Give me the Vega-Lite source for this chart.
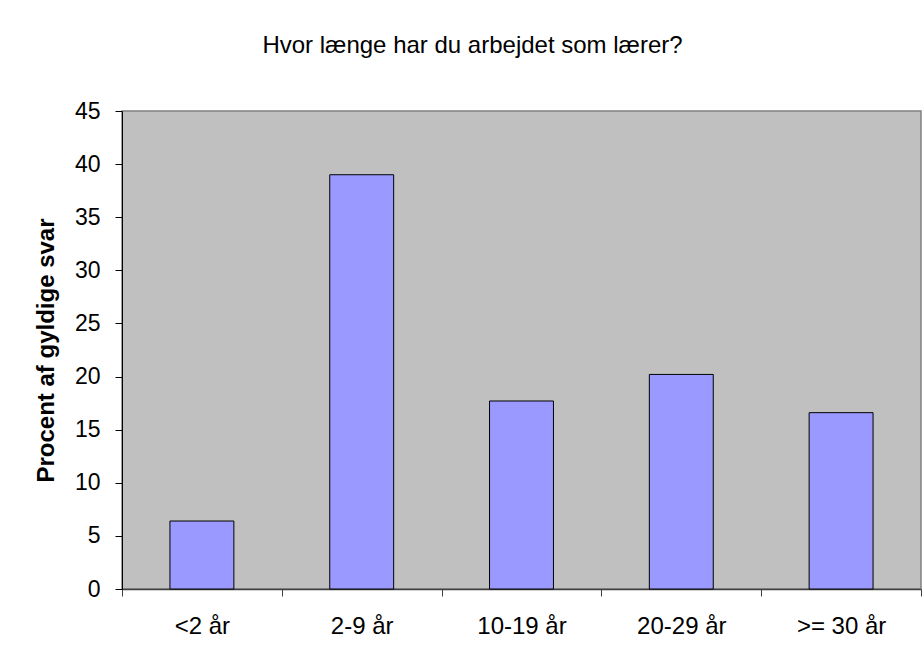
{
  "$schema": "https://vega.github.io/schema/vega-lite/v6.json",
  "autosize": "none",
  "width": 799,
  "height": 478,
  "padding": {"left": 122, "top": 111, "right": 3, "bottom": 70},
  "background": "white",
  "title": {
    "text": "Hvor længe har du arbejdet som lærer?",
    "font": "Liberation Sans",
    "fontSize": 24,
    "fontWeight": "normal",
    "color": "black",
    "anchor": "middle",
    "frame": "group",
    "baseline": "alphabetic",
    "offset": 23,
    "dx": -49
  },
  "data": {
    "values": [
      {"kategori": "<2 år", "procent": 6.4},
      {"kategori": "2-9 år", "procent": 39.0},
      {"kategori": "10-19 år", "procent": 17.7},
      {"kategori": "20-29 år", "procent": 20.2},
      {"kategori": ">= 30 år", "procent": 16.6}
    ]
  },
  "mark": {"type": "bar", "fill": "#9999FF", "stroke": "black", "strokeWidth": 1, "width": {"band": 0.4}},
  "encoding": {
    "x": {
      "field": "kategori",
      "type": "nominal",
      "sort": null,
      "scale": {"paddingInner": 0, "paddingOuter": 0},
      "axis": {
        "title": null,
        "labelAngle": 0,
        "labelFont": "Liberation Sans",
        "labelFontSize": 24,
        "labelColor": "black",
        "labelBaseline": "alphabetic",
        "labelPadding": 37,
        "tickBand": "extent",
        "tickSize": 7,
        "tickColor": "#404040",
        "domainColor": "#404040",
        "domainWidth": 1.5,
        "grid": false
      }
    },
    "y": {
      "field": "procent",
      "type": "quantitative",
      "scale": {"domain": [0, 45], "nice": false},
      "axis": {
        "values": [0, 5, 10, 15, 20, 25, 30, 35, 40, 45],
        "title": "Procent af gyldige svar",
        "titleFont": "Liberation Sans",
        "titleFontSize": 24,
        "titleFontWeight": "bold",
        "titleColor": "black",
        "titleX": -69,
        "titleY": 239,
        "titleAngle": -90,
        "titleBaseline": "alphabetic",
        "titleAlign": "center",
        "labelFont": "Liberation Sans",
        "labelFontSize": 23,
        "labelColor": "black",
        "labelPadding": 15,
        "tickSize": 7,
        "tickColor": "black",
        "domainColor": "black",
        "domainWidth": 1,
        "grid": false
      }
    }
  },
  "config": {
    "view": {"fill": "#C0C0C0", "stroke": "#808080", "strokeWidth": 1.5}
  }
}
